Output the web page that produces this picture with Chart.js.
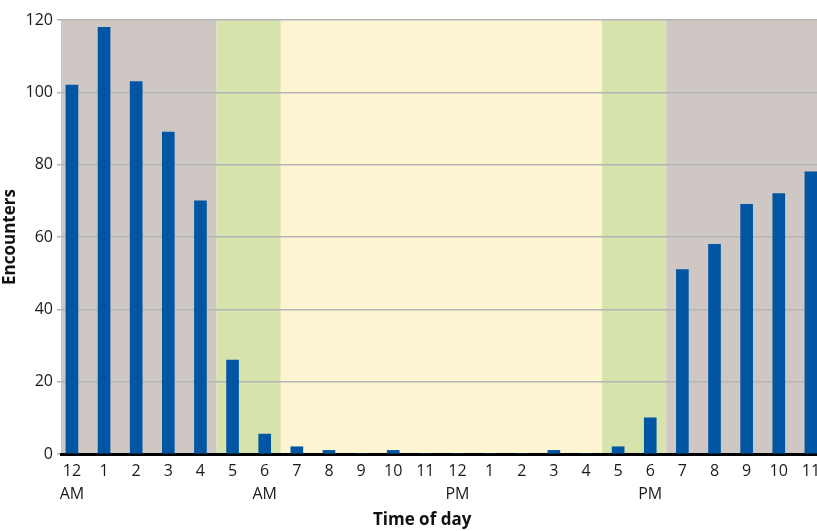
<!DOCTYPE html>
<html>
<head>
<meta charset="utf-8">
<script src="https://cdn.jsdelivr.net/npm/chart.js@4.4.1/dist/chart.umd.min.js"></script>
<style>
  body { margin: 0; background: #fff; }
  #wrap { width: 817px; height: 531px; }
</style>
</head>
<body>
<div id="wrap"><canvas id="chart"></canvas></div>
<script>
// hour of day, midnight first
const tickLabels = [['12', 'AM'], '1', '2', '3', '4', '5', ['6', 'AM'], '7', '8', '9', '10', '11',
                    ['12', 'PM'], '1', '2', '3', '4', '5', ['6', 'PM'], '7', '8', '9', '10', '11'];
const encounters = [102, 118, 103, 89, 70, 26, 5.5, 2, 1, 0, 1, 0,
                    0, 0, 0, 1, 0, 2, 10, 51, 58, 69, 72, 78];

// night / twilight / day periods (edges in hour slots)
const bandEdges = [-0.5, 4.5, 6.5, 16.5, 18.5, 23.5];
const bandColors = ['#cfc7c3', '#d6e3ad', '#fdf4d2', '#d6e3ad', '#cfc7c3'];

const FONT = '"Open Sans", "Noto Sans", sans-serif';

const bandsPlugin = {
  id: 'bands',
  beforeDraw(chart) {
    const { ctx, chartArea: area, scales: { x } } = chart;
    ctx.save();
    ctx.beginPath();
    ctx.rect(area.left, area.top, area.right - area.left, area.bottom - area.top);
    ctx.clip();
    for (let i = 0; i < bandColors.length; i++) {
      const x0 = x.getPixelForValue(bandEdges[i]);
      const x1 = x.getPixelForValue(bandEdges[i + 1]);
      ctx.fillStyle = bandColors[i];
      ctx.fillRect(x0, area.top, x1 - x0, area.bottom - area.top);
    }
    ctx.restore();
  }
};

// x title sits a bit left of the plot centre in the original
const xTitlePlugin = {
  id: 'xTitle',
  afterDraw(chart) {
    const { ctx, scales: { x } } = chart;
    ctx.save();
    ctx.font = 'bold 17px ' + FONT;
    ctx.fillStyle = '#111';
    ctx.textAlign = 'center';
    ctx.textBaseline = 'middle';
    ctx.fillText('Time of day', x.getPixelForValue(10.9), 520);
    ctx.restore();
  }
};

const ctx = document.getElementById('chart').getContext('2d');
new Chart(ctx, {
  type: 'bar',
  data: {
    datasets: [{
      data: encounters.map((v, i) => ({ x: i, y: v })),
      backgroundColor: '#0056a2',
      borderWidth: 0,
      barThickness: 12
    }]
  },
  options: {
    responsive: true,
    maintainAspectRatio: false,
    animation: false,
    layout: { padding: { top: 20, right: 0, left: 0, bottom: 0 } },
    plugins: {
      legend: { display: false },
      tooltip: { enabled: false }
    },
    scales: {
      x: {
        type: 'linear',
        offset: false,
        min: -0.34,
        max: 23.19,
        z: 1,
        afterBuildTicks: (scale) => {
          scale.ticks = tickLabels.map((_, i) => ({ value: i }));
        },
        afterFit: (scale) => {
          scale.height = 77;
          scale.paddingLeft = 0;
          scale.paddingRight = 0;
        },
        grid: { display: false, drawTicks: false, offset: false },
        border: { display: true, color: '#000', width: 3 },
        ticks: {
          autoSkip: false,
          maxRotation: 0,
          padding: 6,
          color: '#1a1a1a',
          font: { family: FONT, size: 16, lineHeight: 1.45 },
          callback: (v) => tickLabels[v]
        }
      },
      y: {
        min: 0,
        max: 120,
        afterFit: (scale) => { scale.width = 61; },
        grid: { color: '#b5b5b5', lineWidth: 1.5, tickLength: 4 },
        border: { display: false },
        ticks: {
          stepSize: 20,
          padding: 4,
          color: '#1a1a1a',
          font: { family: FONT, size: 16 }
        },
        title: {
          display: true,
          text: 'Encounters',
          color: '#111',
          font: { family: FONT, size: 17, weight: 'bold' },
          padding: { top: 0, bottom: 0 }
        }
      }
    }
  },
  plugins: [bandsPlugin, xTitlePlugin]
});
</script>
</body>
</html>
